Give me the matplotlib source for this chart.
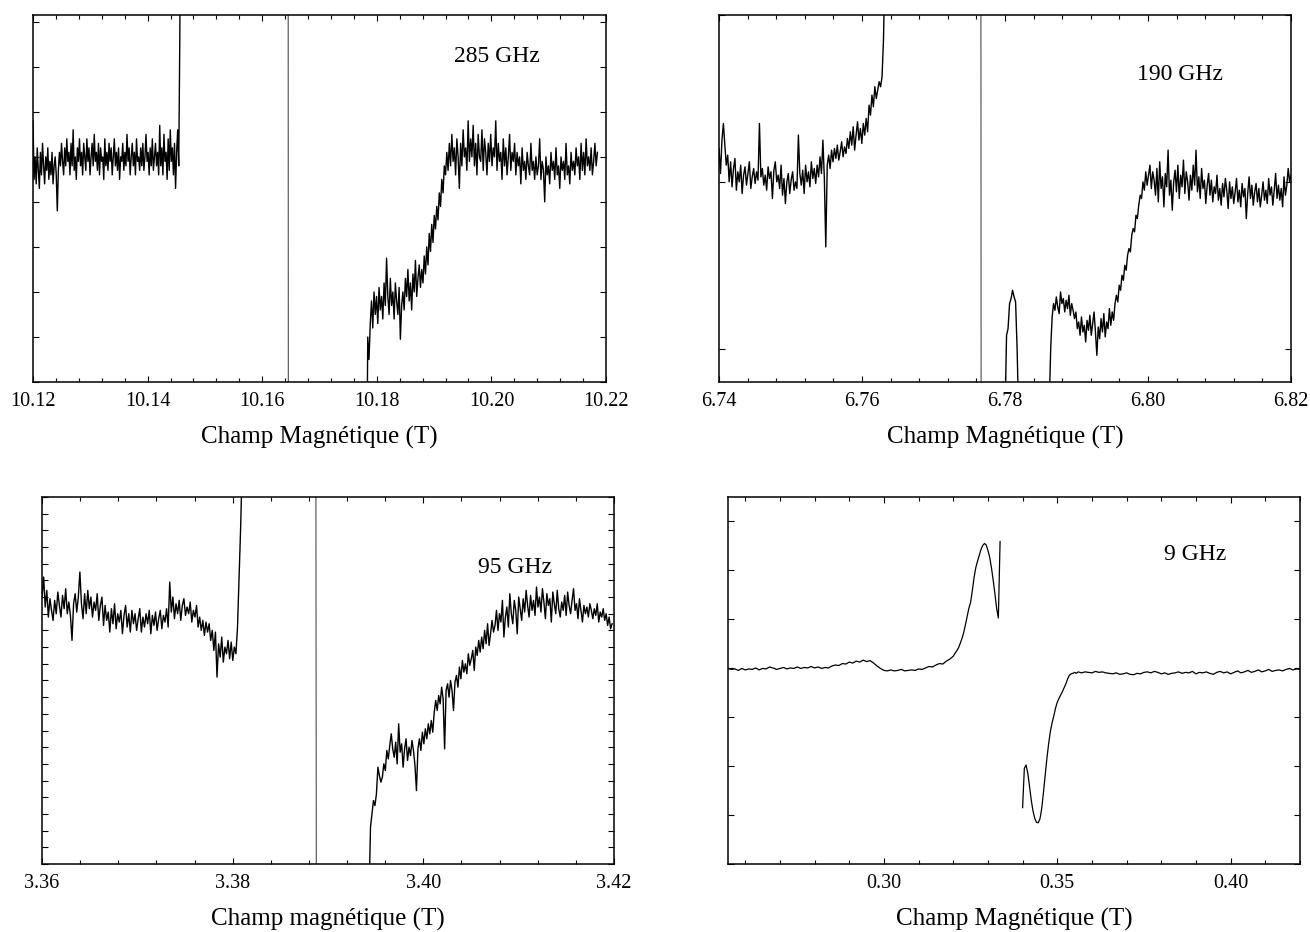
# -*- coding: utf-8 -*-
"""
Spectres RPE a 285, 190, 95 et 9 GHz
"""

import numpy as np
import matplotlib
matplotlib.use('Agg')
import matplotlib.pyplot as plt
from matplotlib.ticker import MultipleLocator

plt.rcParams['font.family'] = ['Liberation Serif', 'DejaVu Serif']

# ---------------- 285 GHz ----------------
b285_gauche = (10.12, 10.1458)
s285_gauche = [5.8, 4.5, 5.0, 4.4, 5.2, 4.7, 4.3, 5.1, 4.6, 5.3, 4.8, 4.4, 5.0, 4.7, 5.2,
               4.5, 4.9, 4.6, 5.1, 4.4, 4.8, 5.0, 4.6, 3.8, 4.7, 5.1, 4.8, 5.3, 4.9, 4.6,
               5.2, 4.8, 5.4, 4.9, 5.1, 4.6, 5.3, 4.8, 5.6, 4.7, 5.0, 4.5, 5.2, 4.9, 5.4,
               4.8, 5.1, 4.6, 5.3, 5.0, 4.7, 5.4, 4.9, 5.2, 4.6, 5.0, 5.3, 4.8, 5.5, 4.9,
               5.1, 4.7, 5.3, 4.6, 5.2, 4.9, 5.0, 4.5, 5.4, 4.8, 5.1, 4.7, 5.3, 4.9, 5.2,
               4.6, 5.0, 5.4, 4.8, 5.1, 4.7, 5.2, 4.5, 5.0, 4.9, 5.3, 4.7, 5.1, 4.8, 5.5,
               4.9, 5.2, 4.6, 5.0, 5.3, 4.8, 5.1, 4.6, 5.4, 4.9, 5.0, 4.7, 5.2, 4.8, 5.3,
               4.7, 5.0, 5.5, 4.9, 5.1, 4.6, 5.2, 4.8, 5.4, 4.7, 5.0, 5.3, 4.8, 5.1, 4.6,
               5.7, 4.8, 5.2, 4.6, 5.5, 4.9, 5.1, 4.5, 5.4, 4.7, 5.6, 4.9, 5.2, 4.6, 5.3,
               4.3, 5.1, 5.6, 4.8, 7.6, 12.0]
b285_droite = (10.1782, 10.2185)
s285_droite = [-3.0, 1.0, 0.5, 1.3, 1.8, 1.2, 2.0, 1.5, 1.9, 1.3, 2.1, 1.6, 1.9, 1.4, 2.2,
               1.7, 2.75, 1.9, 1.5, 2.3, 1.7, 2.0, 1.4, 2.2, 1.8, 1.5, 2.1, 0.95, 1.7, 2.0,
               1.6, 2.3, 1.9, 2.5, 1.8, 2.2, 1.6, 2.4, 2.0, 2.7, 1.9, 2.3, 2.6, 2.1, 2.5,
               2.2, 2.8, 2.4, 3.0, 2.6, 3.3, 2.9, 3.5, 3.1, 3.7, 3.4, 3.9, 3.6, 4.2, 3.9,
               4.5, 4.2, 4.8, 4.6, 5.1, 4.7, 5.3, 4.8, 5.5, 4.9, 5.2, 4.6, 5.4, 5.0, 4.3,
               5.3, 4.8, 5.6, 5.0, 5.2, 4.7, 5.8, 4.9, 5.4, 5.0, 5.7, 4.8, 5.3, 4.6, 5.5,
               5.0, 4.9, 5.6, 4.7, 5.4, 5.1, 4.6, 5.3, 4.9, 5.5, 4.8, 5.2, 5.0, 5.8, 4.7,
               5.3, 4.9, 5.1, 4.5, 5.4, 4.8, 5.2, 4.6, 5.0, 5.5, 4.7, 5.1, 4.9, 5.3, 4.6,
               5.1, 4.8, 5.0, 4.4, 5.2, 4.7, 4.9, 4.5, 5.1, 4.8, 4.6, 5.3, 4.7, 4.9, 4.5,
               5.0, 4.6, 4.8, 5.4, 4.5, 4.9, 4.7, 4.0, 5.0, 4.6, 4.8, 4.4, 5.1, 4.7, 4.9,
               4.5, 5.2, 4.6, 4.8, 4.3, 5.0, 4.7, 4.9, 4.5, 5.3, 4.6, 4.8, 4.4, 5.1, 4.7,
               4.9, 4.6, 5.2, 4.8, 5.0, 4.5, 5.3, 4.7, 5.1, 4.6, 5.4, 4.8, 5.0, 4.7, 5.2,
               4.6, 4.9, 5.3, 4.8, 5.1]
v285_x = [10.1645, 10.1646]
v285_y = [20.0, -20.0]

# ---------------- 190 GHz ----------------
b190_gauche = (6.74, 6.7632)
s190_gauche = [1.2, 1.05, 1.25, 1.35, 1.22, 1.1, 1.16, 1.0, 1.12, 0.97, 1.08, 1.14, 0.95, 1.06, 1.0,
               1.1, 0.93, 1.04, 1.09, 0.98, 1.05, 1.12, 0.96, 1.03, 1.08, 0.99, 1.06, 1.01, 1.35, 1.03,
               1.08, 0.98, 1.04, 0.95, 1.09, 1.02, 1.06, 0.9, 1.07, 1.12, 1.0, 1.04, 0.96, 1.1, 0.92,
               1.02, 0.87, 1.0, 1.05, 0.93, 1.01, 1.06, 0.95, 1.0, 0.96, 1.28, 1.05,
               0.98, 1.07, 0.93, 1.1, 1.0, 1.06, 0.97, 1.12, 1.02, 1.08, 0.99, 1.1, 1.03, 1.15, 1.05,
               1.25, 1.02, 0.61, 1.1, 1.16, 1.08, 1.19, 1.12, 1.2, 1.14, 1.22, 1.13, 1.18, 1.24, 1.15,
               1.21, 1.17, 1.26, 1.2, 1.3, 1.22, 1.33, 1.19, 1.28, 1.36, 1.25, 1.32, 1.23, 1.35, 1.28,
               1.38, 1.3, 1.46, 1.4, 1.52, 1.45, 1.57, 1.5, 1.55, 1.6, 1.57, 1.63, 1.85, 2.3]
b190_pic = (6.7800, 6.7819)
s190_pic = [-0.4, 0.08, 0.12, 0.27, 0.3, 0.35, 0.31, 0.28, 0.0, -0.4]
b190_droite = (6.7862, 6.82)
s190_droite = [-0.3, 0.01, 0.19, 0.27, 0.23, 0.31, 0.25, 0.21, 0.34, 0.27, 0.3, 0.22, 0.29, 0.24, 0.32,
               0.2, 0.27, 0.23, 0.18, 0.22, 0.12, 0.16, 0.08, 0.19, 0.1, 0.14, 0.04, 0.17, 0.11, 0.2,
               0.08, 0.15, 0.22, 0.1, -0.04, 0.13, 0.06, 0.18, 0.1, 0.21, 0.07, 0.16, 0.12, 0.24, 0.14,
               0.22, 0.17, 0.27, 0.32, 0.28, 0.38, 0.35, 0.44, 0.41, 0.5, 0.47, 0.56, 0.6, 0.58, 0.68,
               0.72, 0.7, 0.8, 0.78, 0.86, 0.92, 0.9, 1.0, 0.95, 1.06, 0.98, 1.04, 1.1, 0.96, 1.06,
               1.01, 0.92, 1.08, 0.88, 1.12, 0.96, 1.03, 0.85, 1.05, 0.97, 1.19, 0.92, 1.01, 0.83, 1.0,
               1.07, 0.94, 1.1, 0.9, 1.04, 0.97, 1.13, 0.93, 1.06, 1.0, 0.89, 1.04, 0.95, 1.1, 0.98,
               1.19, 0.94, 1.03, 0.9, 1.08, 0.96, 1.01, 0.87, 0.98, 1.05, 0.92, 1.01, 0.88, 0.97, 0.93,
               1.04, 0.89, 0.96, 0.86, 0.99, 0.91, 1.02, 0.95, 0.84, 1.0, 0.9, 0.97, 0.87, 0.94, 1.02,
               0.88, 0.95, 0.85, 0.99, 0.91, 0.96, 0.78, 0.93, 1.03, 0.9, 0.98, 0.86, 0.94, 0.99, 0.88,
               0.96, 0.85, 0.92, 1.0, 0.89, 0.95, 0.87, 1.02, 0.92, 0.97, 0.86, 0.95, 1.05, 0.9, 0.98,
               0.89, 0.96, 0.85, 1.03, 0.92, 0.98, 1.08, 1.0, 1.04]
v190_x = [6.7766, 6.7767]
v190_y = [5.0, -5.0]

# ---------------- 95 GHz ----------------
b95_gauche = (3.36, 3.381)
s95_gauche = [16.0, 17.2, 15.4, 16.4, 14.8, 15.9, 15.2, 14.6, 15.8, 15.0, 16.3, 15.5, 14.8, 16.1, 15.3,
              16.5, 15.0, 15.7, 14.9, 13.4, 15.6, 16.2, 15.1, 16.0, 17.5, 15.6, 14.7, 16.2, 15.0, 16.4,
              15.3, 16.0, 14.8, 15.7, 15.2, 16.2, 14.6, 15.5, 16.0, 14.3, 15.5, 14.6, 15.1, 13.9, 15.3,
              14.4, 15.6, 14.1, 15.0, 14.5, 15.2, 13.8, 14.9, 15.5, 14.2, 15.0, 13.9, 15.2, 14.4, 15.0,
              14.0, 14.7, 15.3, 13.9, 14.8, 14.2, 15.0, 14.4, 15.2, 13.8, 14.9, 14.3, 15.1, 14.0, 14.7,
              15.2, 14.1, 14.9, 14.5, 15.3, 14.2, 16.9, 15.1, 16.0, 14.7, 15.6, 15.0, 15.8, 14.6, 15.5,
              15.9, 14.9, 15.4, 15.0, 15.7, 14.5, 15.2, 14.8, 15.5, 14.2, 14.8, 14.0, 14.6, 13.7, 14.5,
              13.9, 14.4, 13.4, 14.0, 12.8, 13.9, 11.2, 13.2, 12.4, 13.6, 12.1, 13.0, 12.6, 13.4, 12.3,
              13.3, 12.2, 13.0, 12.6, 14.2, 17.2, 20.2, 24.0]
b95_droite = (3.3943, 3.4198)
s95_droite = [-2.0, 2.2, 3.0, 3.8, 3.5, 4.2, 5.8, 5.3, 4.9, 5.2, 6.0, 5.6, 6.8, 6.3, 7.1,
              7.8, 6.9, 6.4, 7.3, 6.0, 8.4, 6.7, 7.2, 5.8, 6.9, 7.5, 6.2, 7.0, 6.5, 7.4,
              6.8, 5.9, 4.4, 6.9, 7.5, 6.8, 7.9, 7.2, 8.1, 7.5, 8.4, 7.8, 8.6, 7.9, 9.1,
              9.8, 9.2, 10.1, 9.6, 10.6, 9.9, 6.9, 10.4, 10.8, 10.0, 11.0, 10.4, 9.2, 10.9, 11.3,
              10.6, 11.8, 11.1, 12.2, 11.5, 12.0, 11.4, 12.6, 11.9, 12.3, 12.8, 11.6, 13.0, 12.5, 13.4,
              12.7, 13.6, 12.9, 14.0, 13.2, 14.4, 13.1, 13.8, 14.6, 13.9, 14.3, 15.2, 14.0, 15.0, 14.5,
              15.8, 13.6, 14.8, 15.4, 14.2, 16.2, 15.0, 14.4, 15.8, 15.2, 13.8, 16.0, 15.3, 14.6, 15.9,
              15.1, 16.4, 15.5, 14.8, 16.1, 15.2, 15.8, 14.9, 16.6, 15.4, 16.0, 15.1, 16.5, 15.7, 14.7,
              16.2, 15.5, 15.9, 14.5, 16.3, 15.6, 15.0, 16.4, 15.3, 14.8, 15.7, 15.2, 16.1, 14.9, 16.3,
              15.5, 15.0, 15.8, 16.5, 15.2, 15.6, 14.7, 15.9, 15.2, 14.5, 15.5, 15.0, 15.4, 14.8, 15.6,
              15.2, 14.7, 15.3, 14.9, 15.6, 14.5, 15.1, 14.8, 15.3, 14.6, 15.0, 14.3, 14.8, 14.1, 14.4]
v95_x = [3.3887, 3.3888]
v95_y = [40.0, -20.0]

# ---------------- 9 GHz ----------------
b9_base = (0.255, 0.320)
s9_base = [3.99, 3.97, 3.98, 3.95, 3.99, 3.96, 3.98, 3.97, 4.0, 3.96, 3.99, 3.98, 4.02, 4.0,
           3.97, 3.99, 4.01, 3.98, 4.0, 3.99, 4.02, 3.99, 4.01, 4.0, 4.03, 4.0, 4.02, 3.99,
           4.01, 4.0, 4.04, 4.06, 4.05, 4.09, 4.08, 4.12, 4.1, 4.14, 4.12, 4.16, 4.13, 4.15,
           4.1, 4.04, 3.99, 3.95, 3.94, 3.96, 3.94, 3.95, 3.97, 3.94, 3.95, 3.96, 3.95,
           3.98, 3.97, 4.0, 4.03, 4.02, 4.06, 4.09, 4.08, 4.14, 4.18, 4.24]
b9_pic = (0.3205, 0.3335)
s9_pic = [4.30, 4.35, 4.41, 4.50, 4.60, 4.72, 4.88, 5.05, 5.22, 5.34, 5.58, 5.85, 6.05,
          6.18, 6.30, 6.42, 6.50, 6.54, 6.51, 6.40, 6.26, 6.05, 5.80, 5.52, 5.22, 5.02, 6.58]
b9_creux = (0.3400, 0.3560)
s9_creux = [1.15, 1.95, 2.02, 1.85, 1.58, 1.30, 1.08, 0.93, 0.85, 0.84, 0.92, 1.12, 1.45,
            1.80, 2.15, 2.45, 2.70, 2.88, 3.02, 3.18, 3.30, 3.38, 3.45, 3.52, 3.60, 3.68,
            3.78, 3.85, 3.88, 3.89, 3.91, 3.89, 3.92]
b9_fin = (0.357, 0.420)
s9_fin = [3.9, 3.92, 3.91, 3.9, 3.93, 3.91, 3.92, 3.9, 3.89, 3.88, 3.9, 3.87, 3.88, 3.9,
          3.87, 3.86, 3.89, 3.88, 3.91, 3.92, 3.9, 3.93, 3.91, 3.88, 3.9, 3.87, 3.89, 3.9,
          3.92, 3.89, 3.91, 3.9, 3.93, 3.88, 3.91, 3.9, 3.92, 3.89, 3.87, 3.91, 3.93, 3.9,
          3.92, 3.88, 3.91, 3.94, 3.9, 3.92, 3.95, 3.91, 3.93, 3.96, 3.92, 3.94, 3.97,
          3.93, 3.95, 3.96, 3.94, 3.97, 3.99, 3.96, 3.98, 3.97]


def trace(bornes, valeurs):
    return np.linspace(bornes[0], bornes[1], len(valeurs)), np.array(valeurs)


fig = plt.figure(figsize=(13.1, 9.32), dpi=100)

# position des quatre cadres (fraction de la figure)
ax1 = fig.add_axes([0.0252, 0.5901, 0.4374, 0.3938])
ax2 = fig.add_axes([0.5489, 0.5901, 0.4366, 0.3938])
ax3 = fig.add_axes([0.0321, 0.0730, 0.4366, 0.3938])
ax4 = fig.add_axes([0.5557, 0.0730, 0.4366, 0.3938])

lw = 1.0
fs_txt = 17

# 285 GHz
ax1.plot(*trace(b285_gauche, s285_gauche), 'k-', lw=lw)
ax1.plot(v285_x, v285_y, '-', color='0.2', lw=0.7)
ax1.plot(*trace(b285_droite, s285_droite), 'k-', lw=lw)
ax1.set_xlim(10.12, 10.22)
ax1.set_ylim(0, 8.15)
ax1.xaxis.set_minor_locator(MultipleLocator(0.004))
ax1.yaxis.set_major_locator(MultipleLocator(1))
ax1.set_xticks([10.12, 10.14, 10.16, 10.18, 10.20, 10.22])
ax1.set_xticklabels(['10.12', '10.14', '10.16', '10.18', '10.20', '10.22'])
ax1.set_xlabel('Champ Magnétique (T)')
ax1.text(0.81, 0.886, '285 GHz', transform=ax1.transAxes, ha='center', va='center', fontsize=fs_txt)

# 190 GHz
ax2.plot(*trace(b190_gauche, s190_gauche), 'k-', lw=lw)
ax2.plot(v190_x, v190_y, '-', color='0.2', lw=0.7)
ax2.plot(*trace(b190_pic, s190_pic), 'k-', lw=lw)
ax2.plot(*trace(b190_droite, s190_droite), 'k-', lw=lw)
ax2.set_xlim(6.74, 6.82)
ax2.set_ylim(-0.2, 2.0)
ax2.set_xticks([6.74, 6.76, 6.78, 6.80, 6.82])
ax2.set_xticklabels(['6.74', '6.76', '6.78', '6.80', '6.82'])
ax2.xaxis.set_minor_locator(MultipleLocator(0.004))
ax2.yaxis.set_major_locator(MultipleLocator(1))
ax2.set_xlabel('Champ Magnétique (T)')
ax2.text(0.806, 0.837, '190 GHz', transform=ax2.transAxes, ha='center', va='center', fontsize=fs_txt)

# 95 GHz
ax3.plot(*trace(b95_gauche, s95_gauche), 'k-', lw=lw)
ax3.plot(v95_x, v95_y, '-', color='0.2', lw=0.7)
ax3.plot(*trace(b95_droite, s95_droite), 'k-', lw=lw)
ax3.set_xlim(3.36, 3.42)
ax3.set_ylim(0, 22)
ax3.set_xticks([3.36, 3.38, 3.40, 3.42])
ax3.set_xticklabels(['3.36', '3.38', '3.40', '3.42'])
ax3.xaxis.set_minor_locator(MultipleLocator(0.004))
ax3.yaxis.set_major_locator(MultipleLocator(1))
ax3.set_xlabel('Champ magnétique (T)')
ax3.text(0.827, 0.807, '95 GHz', transform=ax3.transAxes, ha='center', va='center', fontsize=fs_txt)

# 9 GHz
x9 = np.concatenate([trace(b9_base, s9_base)[0], trace(b9_pic, s9_pic)[0]])
y9 = np.concatenate([s9_base, s9_pic])
ax4.plot(x9, y9, 'k-', lw=0.9)
x9b = np.concatenate([trace(b9_creux, s9_creux)[0], trace(b9_fin, s9_fin)[0]])
y9b = np.concatenate([s9_creux, s9_fin])
ax4.plot(x9b, y9b, 'k-', lw=0.9)
ax4.set_xlim(0.255, 0.42)
ax4.set_ylim(0, 7.49)
ax4.set_xticks([0.30, 0.35, 0.40])
ax4.set_xticklabels(['0.30', '0.35', '0.40'])
ax4.xaxis.set_minor_locator(MultipleLocator(0.01))
ax4.yaxis.set_major_locator(MultipleLocator(1))
ax4.set_xlabel('Champ Magnétique (T)')
ax4.text(0.816, 0.842, '9 GHz', transform=ax4.transAxes, ha='center', va='center', fontsize=fs_txt)

for ax in (ax1, ax2, ax3, ax4):
    ax.tick_params(which='both', direction='in', top=True, right=True,
                   labelleft=False, labelsize=14.5, pad=7)
    ax.tick_params(which='major', length=4, width=0.8)
    ax.tick_params(which='minor', length=3, width=0.8)
    ax.xaxis.label.set_size(18)
    ax.xaxis.labelpad = 11
    for s in ax.spines.values():
        s.set_linewidth(1.1)

plt.savefig('out.png', dpi=100)
